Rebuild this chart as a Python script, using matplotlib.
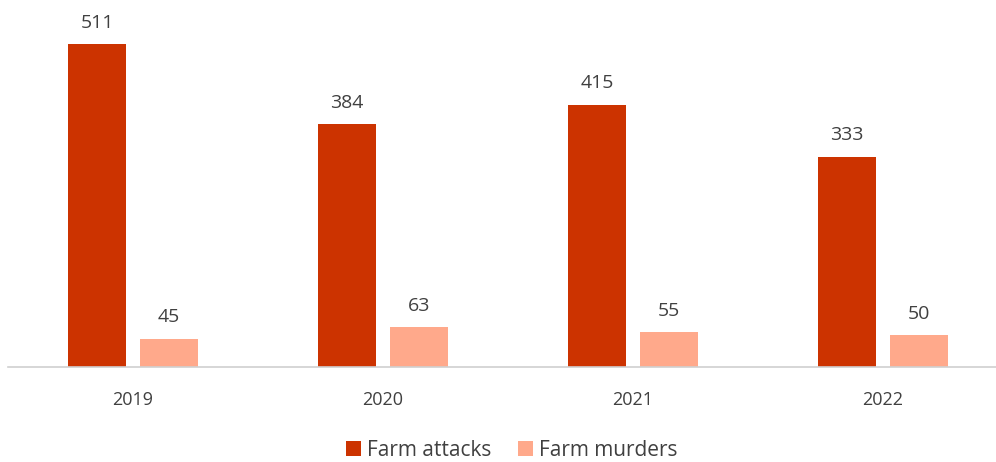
import matplotlib.pyplot as plt
import numpy as np

years = ['2019', '2020', '2021', '2022']
attacks = [511, 384, 415, 333]
murders = [45, 63, 55, 50]

plt.rcParams['font.family'] = ['Open Sans', 'DejaVu Sans']
txt = '#404040'

fig = plt.figure(figsize=(9.96, 4.62), dpi=100)
ax = fig.add_axes([8 / 996, 1 - 367 / 462, 988 / 996, 357 / 462])

x = np.arange(len(years))
w = 0.232
b1 = ax.bar(x - 0.144, attacks, w, color='#CC3300', label='Farm attacks')
b2 = ax.bar(x + 0.144, murders, w, color='#FFA98B', label='Farm murders')

for bars in (b1, b2):
    for r in bars:
        ax.annotate(f'{int(r.get_height())}', (r.get_x() + r.get_width() / 2, r.get_height()),
                    xytext=(0, 9), textcoords='offset points', ha='center', va='bottom',
                    fontsize=14, color=txt)

ax.set_xlim(-0.5, 3.452)
ax.set_ylim(0, 565)
ax.set_xticks(x)
ax.set_xticklabels(years, fontsize=13, color=txt)
ax.tick_params(axis='x', length=0, pad=17)
ax.set_yticks([])
for s in ('top', 'right', 'left'):
    ax.spines[s].set_visible(False)
ax.spines['bottom'].set_color('#d0d0d0')
ax.spines['bottom'].set_linewidth(1.2)

fig.legend(loc='center', bbox_to_anchor=(512 / 996, 1 - 450 / 462), ncol=2, frameon=False,
           fontsize=15, handlelength=0.7, handleheight=0.7, handletextpad=0.3, columnspacing=1.3,
           labelcolor=txt)

fig.savefig('out.png', dpi=100)
